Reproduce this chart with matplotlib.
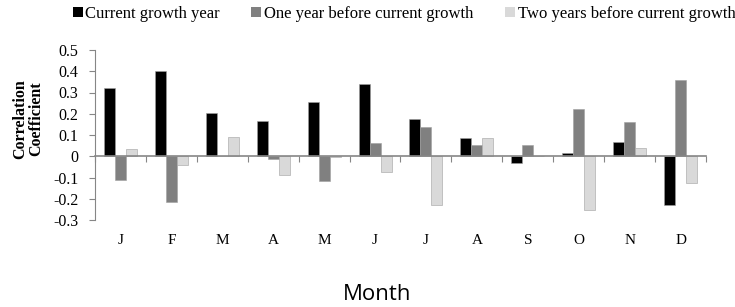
import numpy as np
import matplotlib
matplotlib.use('Agg')
import matplotlib.pyplot as plt
from matplotlib.patches import Patch
from matplotlib.transforms import blended_transform_factory

# Data
months = ['J', 'F', 'M', 'A', 'M', 'J', 'J', 'A', 'S', 'O', 'N', 'D']
current_year = [0.323, 0.40, 0.204, 0.168, 0.257, 0.342, 0.174, 0.086, -0.030, 0.013, 0.069, -0.229]
one_year_before = [-0.110, -0.215, 0.0, -0.015, -0.118, 0.063, 0.140, 0.053, 0.055, 0.221, 0.163, 0.361]
two_years_before = [0.036, -0.040, 0.090, -0.088, -0.003, -0.075, -0.229, 0.086, 0.0, -0.251, 0.038, -0.124]
series_names = ['Current growth year', 'One year before current growth', 'Two years before current growth']
colors = ['#000000', '#808080', '#d9d9d9']

W, H = 735, 307
fig = plt.figure(figsize=(W / 100, H / 100), dpi=100)
serif = 'Liberation Serif'
ax = fig.add_axes([95 / W, (H - 220) / H, (706 - 95) / W, 170 / H])

x = np.arange(len(months))
bw = 0.216
for k, (vals, c) in enumerate(zip([current_year, one_year_before, two_years_before], colors)):
    ax.bar(x + (k - 1) * bw, vals, width=bw, color=c, edgecolor='#a0a0a0', linewidth=0.4)

ax.set_xlim(-0.5, len(months) - 0.5)
ax.set_ylim(-0.3, 0.5)
ax.set_yticks(np.round(np.arange(-0.3, 0.51, 0.1), 1))
ax.set_yticklabels(['-0.3', '-0.2', '-0.1', '0', '0.1', '0.2', '0.3', '0.4', '0.5'],
                   family=serif, fontsize=11.5)

for s in ['top', 'right']:
    ax.spines[s].set_visible(False)
ax.spines['left'].set_color('#868686')
ax.spines['bottom'].set_position(('data', 0))
ax.spines['bottom'].set_color('#868686')
ax.spines['bottom'].set_linewidth(1.2)
ax.set_xticks(np.arange(-0.5, len(months), 1.0))
ax.set_xticklabels([])
ax.tick_params(axis='x', direction='out', length=4, color='#868686')
ax.tick_params(axis='y', direction='out', length=4, color='#868686', pad=8)

tr = blended_transform_factory(ax.transData, ax.transAxes)
for i, m in enumerate(months):
    ax.text(i, -0.12, m, transform=tr, ha='center', va='center', family=serif, fontsize=11)

fig.text(28 / W, (H - 119) / H, 'Correlation\nCoefficient', rotation=90, ha='center', va='center',
         family=serif, fontsize=11.5, fontweight='bold', linespacing=1.0)
fig.text(377 / W, (H - 294) / H, 'Month', ha='center', va='center', family='Open Sans', fontsize=16)

handles = [Patch(facecolor=c, edgecolor='none') for c in colors]
fig.legend(handles, series_names, loc='center', bbox_to_anchor=(404 / W, (H - 14) / H), ncol=3,
           frameon=False, prop={'family': serif, 'size': 12}, handlelength=0.6, handleheight=0.6,
           handletextpad=0.15, columnspacing=1.9, borderpad=0, borderaxespad=0)

fig.savefig('out.png', dpi=100)
